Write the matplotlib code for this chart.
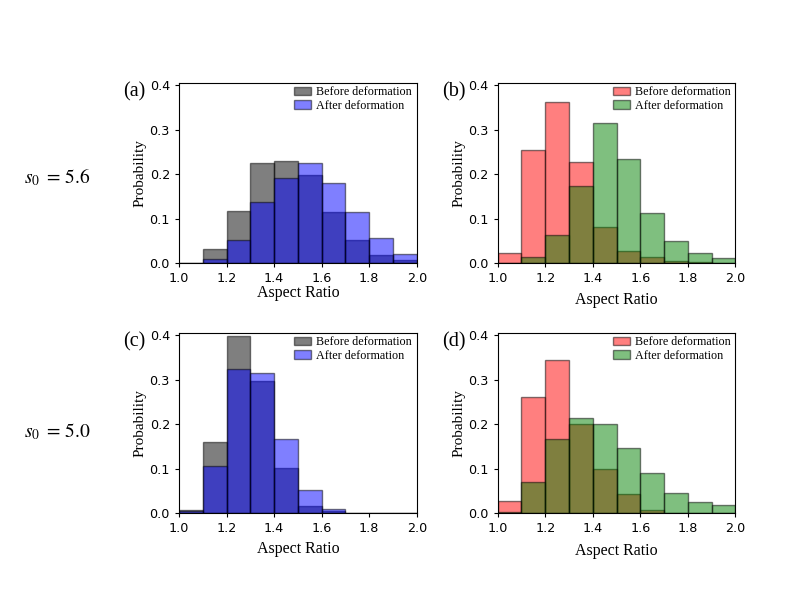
import numpy as np
import matplotlib
matplotlib.use("Agg")
import matplotlib.pyplot as plt

plt.rcParams['mathtext.fontset'] = 'stix'

# bin left edges (width 0.1) for aspect ratio 1.0 .. 2.0
bin_edges = [1.0, 1.1, 1.2, 1.3, 1.4, 1.5, 1.6, 1.7, 1.8, 1.9]
bin_width = 0.1

# s0 = 5.6
a_before = [0.0, 0.032, 0.116, 0.226, 0.230, 0.198, 0.114, 0.051, 0.019, 0.006]
a_after = [0.0, 0.010, 0.052, 0.137, 0.192, 0.226, 0.179, 0.114, 0.057, 0.020]
b_before = [0.022, 0.254, 0.363, 0.227, 0.081, 0.026, 0.013, 0.004, 0.002, 0.001]
b_after = [0.0, 0.013, 0.063, 0.174, 0.314, 0.233, 0.112, 0.049, 0.022, 0.011]

# s0 = 5.0
c_before = [0.007, 0.159, 0.399, 0.297, 0.101, 0.016, 0.004, 0.001, 0.0, 0.0]
c_after = [0.004, 0.106, 0.323, 0.316, 0.167, 0.051, 0.010, 0.001, 0.0, 0.0]
d_before = [0.026, 0.260, 0.344, 0.201, 0.099, 0.043, 0.007, 0.001, 0.0, 0.0]
d_after = [0.002, 0.069, 0.166, 0.213, 0.201, 0.147, 0.090, 0.046, 0.025, 0.018]

panels = [
    ("(a)", a_before, a_after, "black", "blue"),
    ("(b)", b_before, b_after, "red", "green"),
    ("(c)", c_before, c_after, "black", "blue"),
    ("(d)", d_before, d_after, "red", "green"),
]
row_labels = [r"$s_{0}\;=\,5.6$", r"$s_{0}\;=\,5.0$"]
xlabel_pads = [0, 5, 4, 5.7]

fig = plt.figure(figsize=(7.9, 5.93), dpi=100)

lefts = [0.2266, 0.630]
bottoms = [0.5565, 0.135]
w, h = 0.301, 0.3035

for k, (lab, before, after, c1, c2) in enumerate(panels):
    row, col = divmod(k, 2)
    ax = fig.add_axes([lefts[col], bottoms[row], w, h])
    ax.bar(bin_edges, before, width=bin_width, align='edge', color=c1,
           alpha=0.5, edgecolor='black', linewidth=1.0, label='Before deformation')
    ax.bar(bin_edges, after, width=bin_width, align='edge', color=c2,
           alpha=0.5, edgecolor='black', linewidth=1.0, label='After deformation')
    ax.set_xlim(1.0, 2.0)
    ax.set_ylim(0, 0.405)
    ax.set_xticks(np.arange(1.0, 2.01, 0.2))
    ax.set_yticks([0.0, 0.1, 0.2, 0.3, 0.4])
    ax.tick_params(labelsize=9.2, length=3)
    ax.set_xlabel("Aspect Ratio", family="Liberation Serif", fontsize=11.5,
                  labelpad=xlabel_pads[k])
    ax.set_ylabel("Probability", family="Liberation Serif", fontsize=11, labelpad=2)
    ax.legend(loc='upper right', frameon=False,
              prop={'family': 'Liberation Serif', 'size': 8.7},
              handlelength=1.4, handletextpad=0.4, labelspacing=0.15,
              borderaxespad=0.0, bbox_to_anchor=(1.0, 1.01))
    ax.text(-0.235, 0.95, lab, transform=ax.transAxes, family="Liberation Serif",
            fontsize=14.5, va='center', ha='left')

fig.text(0.031, 0.691, row_labels[0], fontsize=14, ha='left', va='baseline')
fig.text(0.030, 0.263, row_labels[1], fontsize=14, ha='left', va='baseline')

fig.savefig("out.png", dpi=100)
